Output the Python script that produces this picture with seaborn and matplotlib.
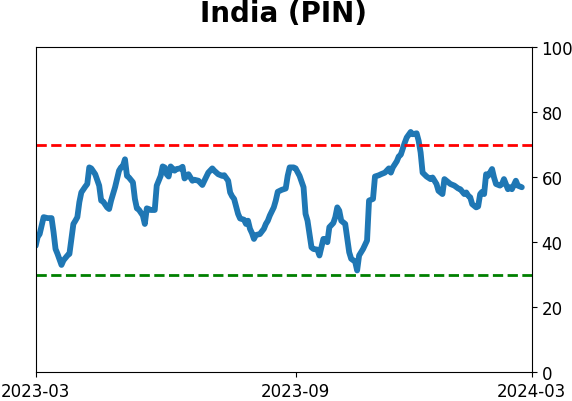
import matplotlib
matplotlib.use("Agg")
import matplotlib.pyplot as plt
import seaborn as sns
import pandas as pd

# trading-day index (x) and indicator value (y)
day_index = [0, 1, 2, 4, 6, 8, 9, 10, 11, 13, 14, 16, 17, 18, 19, 20, 21, 22, 23, 25,
             26, 27, 28, 30, 32, 33, 34, 36, 37, 38, 39, 40, 42, 43, 44, 45, 46, 47, 49, 50,
             51, 52, 54, 55, 56, 57, 58, 60, 61, 62, 63, 64, 65, 66, 67, 68, 70, 71, 73, 74,
             75, 76, 77, 79, 80, 82, 84, 85, 87, 89, 90, 92, 94, 95, 97, 98, 99, 100, 102, 103,
             105, 106, 107, 108, 109, 110, 111, 113, 115, 116, 117, 118, 120, 121, 122, 124, 126, 127, 128, 130,
             131, 133, 135, 136, 137, 138, 139, 140, 142, 143, 145, 146, 147, 148, 150, 151, 152, 153, 154, 156,
             158, 159, 161, 162, 163, 165, 167, 168, 170, 171, 173, 174, 176, 178, 179, 180, 182, 183, 184, 186,
             187, 189, 190, 192, 193, 194, 195, 197, 199, 200, 202, 203, 205, 206, 208, 209, 211, 213, 214, 216,
             217, 218, 219, 220, 222, 223, 224, 225, 226, 227, 228, 230, 231, 232, 234, 235, 236, 238, 239, 240,
             242, 243, 245]
pin_values = [39.0, 41.7, 42.6, 47.8, 47.5, 47.5, 43.2, 38.0, 36.5, 33.1, 34.5, 36.0, 36.5, 41.1, 45.7, 46.7, 47.8, 52.4, 55.4, 57.2,
              58.0, 63.1, 62.8, 61.0, 57.5, 52.9, 52.6, 50.8, 50.3, 52.9, 54.9, 57.0, 62.1, 63.1, 63.6, 65.6, 60.5, 60.0, 58.5, 53.4,
              50.5, 50.1, 48.3, 45.7, 50.5, 50.3, 50.0, 50.0, 57.5, 59.0, 60.5, 63.4, 63.1, 61.0, 60.3, 63.4, 62.1, 62.6, 62.8, 63.3,
              59.7, 60.3, 61.0, 59.0, 59.3, 59.0, 57.7, 59.0, 61.5, 62.8, 62.1, 61.0, 60.5, 60.7, 59.0, 55.4, 54.2, 53.4, 48.8, 47.4,
              47.0, 45.7, 46.7, 44.2, 42.9, 41.1, 42.3, 42.6, 44.2, 45.7, 46.7, 48.3, 50.8, 52.9, 55.6, 56.2, 56.6, 60.5, 63.1, 63.1,
              62.8, 60.5, 57.0, 48.8, 46.7, 42.6, 38.5, 38.0, 37.8, 36.0, 41.1, 41.1, 40.1, 44.7, 46.0, 47.8, 50.8, 49.8, 46.7, 45.7,
              37.0, 35.0, 34.1, 31.4, 36.0, 38.0, 40.6, 52.9, 53.4, 60.3, 60.7, 61.0, 61.5, 62.8, 61.5, 63.1, 65.0, 66.5, 67.0, 70.7,
              72.3, 74.0, 73.3, 73.6, 71.3, 67.7, 61.5, 60.3, 59.5, 60.0, 58.0, 55.9, 54.9, 59.5, 58.5, 58.0, 57.5, 56.6, 56.4, 54.9,
              55.4, 54.4, 53.9, 51.8, 50.8, 51.1, 54.9, 55.6, 54.9, 61.0, 60.5, 62.6, 60.0, 58.0, 57.5, 58.0, 59.5, 56.4, 57.0, 56.4,
              59.0, 57.5, 57.0]

tick_positions = [0, 131, 250]
tick_labels = ["2023-03", "2023-09", "2024-03"]
upper_level = 70
lower_level = 30

df = pd.DataFrame({"day": day_index, "value": pin_values})

sns.set_style("ticks")
plt.rcParams['font.family'] = ['DejaVu Sans']

fig = plt.figure(figsize=(5.72, 4.02), dpi=100)
ax = fig.add_axes([0.0624, 0.0709, 0.8672, 0.8085])

sns.lineplot(data=df, x="day", y="value", ax=ax, color="#1f77b4", linewidth=4.2)
ax.axhline(upper_level, color="red", linestyle="--", linewidth=2)
ax.axhline(lower_level, color="green", linestyle="--", linewidth=2)

ax.set_xlim(0, 250)
ax.set_ylim(0, 100)
ax.set_xticks(tick_positions)
ax.set_xticklabels(tick_labels)
ax.set_yticks([0, 20, 40, 60, 80, 100])
ax.yaxis.tick_right()
ax.yaxis.set_label_position("right")
ax.set_xlabel("")
ax.set_ylabel("")
ax.tick_params(axis="both", labelsize=12, colors="black", length=3.5, width=0.8)
for s in ax.spines.values():
    s.set_visible(True)
    s.set_color("black")
    s.set_linewidth(0.8)

ax.set_title("India (PIN)", fontsize=20, fontweight="bold", pad=19, color="black")

fig.savefig("out.png", dpi=100)
